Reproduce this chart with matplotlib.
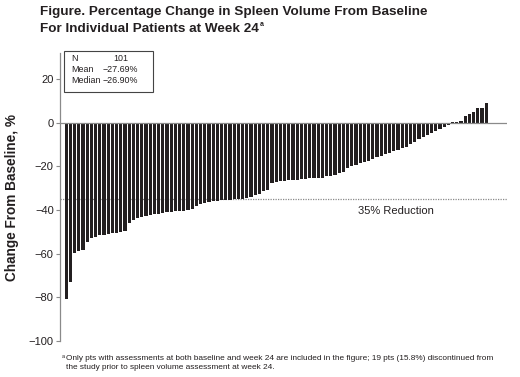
import matplotlib
matplotlib.use("Agg")
import matplotlib.pyplot as plt
import numpy as np
from matplotlib.patches import Rectangle

plt.rcParams['font.family'] = ['Liberation Sans', 'DejaVu Sans']

# Percentage change in spleen volume, sorted (101 patients)
changes = [
    -80.9, -73.0, -59.5, -58.8, -58.5, -54.5, -53.0, -52.3, -51.6, -51.4,
    -50.8, -50.6, -50.3, -50.0, -49.8, -46.0, -44.6, -43.5, -43.2, -42.6,
    -42.4, -42.0, -41.6, -41.3, -41.1, -40.8, -40.6, -40.4, -40.2, -39.8,
    -39.5, -37.9, -37.2, -36.9, -36.2, -36.0, -35.7, -35.6, -35.4, -35.2,
    -35.1, -35.0, -34.8, -34.3, -33.8, -32.9, -32.5, -31.4, -31.0, -27.8,
    -26.9, -26.8, -26.6, -26.4, -26.2, -26.0, -25.8, -25.6, -25.5, -25.4,
    -25.3, -25.2, -24.5, -24.2, -23.7, -23.2, -22.5, -20.8, -20.0, -19.3,
    -18.6, -18.0, -17.3, -16.6, -15.8, -15.1, -14.4, -13.8, -13.1, -12.4,
    -11.6, -11.0, -9.8, -8.8, -7.3, -6.6, -5.6, -4.6, -3.6, -2.8,
    -2.0, -1.2, 0.3, 0.6, 0.9, 3.1, 4.0, 5.1, 6.6, 6.7,
    9.2,
]
yticks = [20, 0, -20, -40, -60, -80, -100]
ytick_labels = ["20", "0", "\u221220", "\u221240", "\u221260", "\u221280", "\u2212100"]
stat_names = ["N", "Mean", "Median"]
stat_values = ["101", "\u221227.69%", "\u221226.90%"]
reduction_threshold = -35

W, H = 520, 377
fig = plt.figure(figsize=(W / 100, H / 100), dpi=100)
dark = "#231f20"

ax_left, ax_right = 60, 507
ax_top, ax_bot = 53, 341
ax = fig.add_axes([ax_left / W, 1 - ax_bot / H, (ax_right - ax_left) / W, (ax_bot - ax_top) / H])

x = np.arange(len(changes))
ax.bar(x, changes, width=0.76, color=dark, edgecolor="none", zorder=2)
ax.set_xlim(-1.48, 104.95)
ax.set_ylim(-100, 32)

ax.axhline(0, color="#8a8a8a", lw=0.9, zorder=3)
ax.axhline(reduction_threshold, color="#8a8a8a", lw=0.9, ls=(0, (1, 1)), zorder=1)
ax.text(69.5, reduction_threshold - 5.2, "35% Reduction", fontsize=8, color=dark,
        ha="left", va="center")

for s in ["top", "right", "bottom"]:
    ax.spines[s].set_visible(False)
ax.spines["left"].set_color("#8a8a8a")
ax.spines["left"].set_linewidth(0.9)
ax.spines["left"].set_bounds(-100, 32)
ax.set_xticks([])
ax.set_yticks(yticks)
ax.set_yticklabels(ytick_labels, fontsize=8, color=dark)
ax.tick_params(axis="y", length=3, width=0.8, color="#8a8a8a", pad=1.5)
ax.set_ylabel("Change From Baseline, %", fontsize=9.8, fontweight="bold", color=dark, labelpad=7)

# stats box
bx0, bx1, by0, by1 = 64, 153, 51, 92
fig.patches.append(Rectangle((bx0 / W, 1 - by1 / H), (bx1 - bx0) / W, (by1 - by0) / H,
                             transform=fig.transFigure, fill=True, facecolor="white",
                             edgecolor="#444444", lw=0.8, zorder=5))
for i, (n, v) in enumerate(zip(stat_names, stat_values)):
    yy = 58.5 + i * 11
    fig.text(71 / W, 1 - yy / H, n, fontsize=6.4, color=dark, va="center", ha="left", zorder=6)
    fig.text((113 if i == 0 else 103) / W, 1 - yy / H, v, fontsize=6.4, color=dark,
             va="center", ha="left", zorder=6)

# title
title_fs = 9.7
fig.text(40 / W, 1 - 12.5 / H, "Figure. Percentage Change in Spleen Volume From Baseline",
         fontsize=title_fs, fontweight="bold", color=dark, va="center", ha="left")
t2 = fig.text(40 / W, 1 - 28.5 / H, "For Individual Patients at Week 24",
              fontsize=title_fs, fontweight="bold", color=dark, va="center", ha="left")

# footnote
fn_fs = 5.95
fig.text(62 / W, 1 - 356.5 / H, "a", fontsize=4, color=dark, va="center", ha="left")
fig.text(66 / W, 1 - 358.5 / H,
         "Only pts with assessments at both baseline and week 24 are included in the figure; 19 pts (15.8%) discontinued from",
         fontsize=fn_fs, color=dark, va="center", ha="left")
fig.text(66.5 / W, 1 - 367.5 / H,
         "the study prior to spleen volume assessment at week 24.",
         fontsize=fn_fs, color=dark, va="center", ha="left")

fig.canvas.draw()
bb = t2.get_window_extent(fig.canvas.get_renderer())
fig.text((bb.x1 + 1) / W, 1 - 25 / H, "a", fontsize=5, fontweight="bold", color=dark,
         va="center", ha="left")

fig.savefig("out.png", dpi=100, facecolor="white")
